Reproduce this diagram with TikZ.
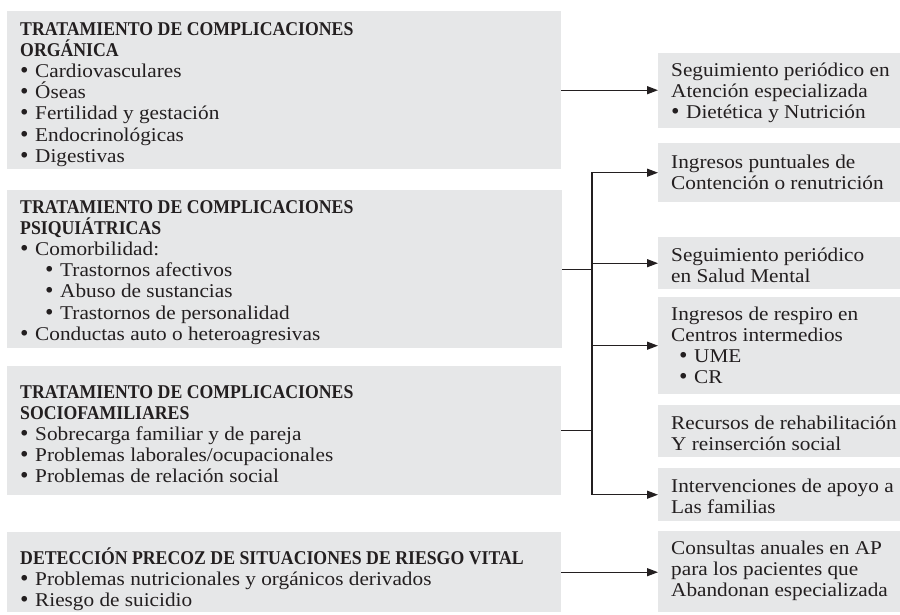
\documentclass[tikz,border=0pt]{standalone}
\usepackage{fontspec}
\setmainfont[FakeStretch=1.09]{Liberation Serif}
\newfontfamily\hdrfont[FakeStretch=0.91]{Liberation Serif}
\newfontfamily\bulfont{DejaVu Sans}
\usetikzlibrary{arrows.meta,calc}
\definecolor{boxgray}{HTML}{E6E7E8}
\definecolor{ink}{HTML}{231F20}
\newcommand\hdr{\hdrfont\bfseries}
\newcommand\bl{\makebox[15pt][l]{\hskip-1.6pt{\bulfont •}}}
\newcommand\txtlines[1]{\vtop{\baselineskip=21.2pt\lineskiplimit=-100pt\lineskip=0pt\halign{##\hfil\cr#1\crcr}}}
\tikzset{
  box/.style={fill=boxgray, draw=none, inner sep=0pt, anchor=north west},
  txt/.style={anchor=base west, inner sep=0pt, text=ink, font=\fontsize{19.5}{21.2}\selectfont},
  line/.style={draw=ink, line width=1.3pt},
  conn/.style={line, -{Triangle[length=11pt,width=8pt]}}
}
\begin{document}
\begin{tikzpicture}[x=1pt,y=-1pt]
\useasboundingbox (0,0) rectangle (900,614);
% left boxes
\node[box, minimum width=554pt, minimum height=158pt] (org) at (7,11) {};
\node[box, minimum width=555pt, minimum height=158pt] (psi) at (7,190) {};
\node[box, minimum width=554pt, minimum height=129pt] (soc) at (7,366) {};
\node[box, minimum width=554pt, minimum height=80pt] (det) at (7,532) {};
% right boxes
\node[box, minimum width=242pt, minimum height=75pt] (A) at (658,53) {};
\node[box, minimum width=242pt, minimum height=59pt] (B) at (658,143) {};
\node[box, minimum width=242pt, minimum height=52pt] (C) at (658,237) {};
\node[box, minimum width=242pt, minimum height=97pt] (D) at (658,297) {};
\node[box, minimum width=242pt, minimum height=52pt] (E) at (658,405) {};
\node[box, minimum width=242pt, minimum height=53pt] (F) at (658,468) {};
\node[box, minimum width=242pt, minimum height=81pt] (G) at (658,531) {};
% left texts
\node[txt] (torg) at ($(org.north west)+(13,24)$) {\txtlines{%
{\hdr TRATAMIENTO DE COMPLICACIONES}\cr
{\hdr ORGÁNICA}\cr
\bl Cardiovasculares\cr
\bl Óseas\cr
\bl Fertilidad y gestación\cr
\bl Endocrinológicas\cr
\bl Digestivas}};
\node[txt] (tpsi) at ($(psi.north west)+(13,23)$) {\txtlines{%
{\hdr TRATAMIENTO DE COMPLICACIONES}\cr
{\hdr PSIQUIÁTRICAS}\cr
\bl Comorbilidad:\cr
\hskip25pt\bl Trastornos afectivos\cr
\hskip25pt\bl Abuso de sustancias\cr
\hskip25pt\bl Trastornos de personalidad\cr
\bl Conductas auto o heteroagresivas}};
\node[txt] (tsoc) at ($(soc.north west)+(13,32)$) {\txtlines{%
{\hdr TRATAMIENTO DE COMPLICACIONES}\cr
{\hdr SOCIOFAMILIARES}\cr
\bl Sobrecarga familiar y de pareja\cr
\bl Problemas laborales/ocupacionales\cr
\bl Problemas de relación social}};
\node[txt] (tdet) at ($(det.north west)+(13,32)$) {\txtlines{%
{\hdr DETECCIÓN PRECOZ DE SITUACIONES DE RIESGO VITAL}\cr
\bl Problemas nutricionales y orgánicos derivados\cr
\bl Riesgo de suicidio}};
% right texts
\node[txt] (tA) at ($(A.north west)+(13,23)$) {\txtlines{%
Seguimiento periódico en\cr
Atención especializada\cr
\bl Dietética y Nutrición}};
\node[txt] (tB) at ($(B.north west)+(13,25)$) {\txtlines{%
Ingresos puntuales de\cr
Contención o renutrición}};
\node[txt] (tC) at ($(C.north west)+(13,24)$) {\txtlines{%
Seguimiento periódico\cr
en Salud Mental}};
\node[txt] (tD) at ($(D.north west)+(13,23)$) {\txtlines{%
Ingresos de respiro en\cr
Centros intermedios\cr
\hskip8pt\bl UME\cr
\hskip8pt\bl CR}};
\node[txt] (tE) at ($(E.north west)+(13,24)$) {\txtlines{%
Recursos de rehabilitación\cr
Y reinserción social}};
\node[txt] (tF) at ($(F.north west)+(13,24)$) {\txtlines{%
Intervenciones de apoyo a\cr
Las familias}};
\node[txt] (tG) at ($(G.north west)+(13,23)$) {\txtlines{%
Consultas anuales en AP\cr
para los pacientes que\cr
Abandonan especializada}};
% connectors
\coordinate (bus) at (592,0);
\draw[conn] (org.east) -- (org.east -| A.west);
\draw[line] (psi.east) -- (psi.east -| bus);
\draw[line] (soc.east) -- (soc.east -| bus);
\draw[conn] (bus |- B.west) -- (bus |- F.west) -- (F.west);
\draw[conn, line cap=rect] (bus |- B.west) -- (B.west);
\draw[conn] (bus |- C.west) -- (C.west);
\draw[conn] (bus |- D.west) -- (D.west);
\draw[conn] (det.east) -- (det.east -| G.west);
\end{tikzpicture}
\end{document}
